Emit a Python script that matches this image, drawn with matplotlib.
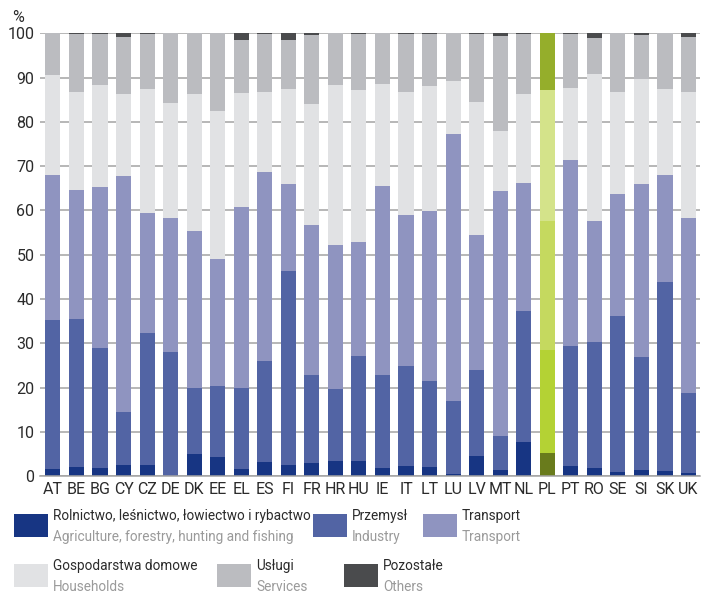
import matplotlib
matplotlib.use("Agg")
import matplotlib.pyplot as plt
from matplotlib.patches import Rectangle
import numpy as np

plt.rcParams["font.family"] = ["Roboto", "DejaVu Sans"]

countries = ["AT", "BE", "BG", "CY", "CZ", "DE", "DK", "EE", "EL", "ES", "FI", "FR", "HR", "HU",
             "IE", "IT", "LT", "LU", "LV", "MT", "NL", "PL", "PT", "RO", "SE", "SI", "SK", "UK"]

agriculture = [1.7, 2.1, 1.9, 2.6, 2.6, 0.0, 5.0, 4.4, 1.7, 3.3, 2.6, 3.0, 3.5, 3.5,
               1.9, 2.3, 2.1, 0.5, 4.6, 1.4, 7.7, 5.3, 2.3, 1.9, 1.0, 1.4, 1.2, 0.8]
industry = [33.6, 33.4, 27.0, 11.9, 29.7, 28.0, 14.9, 16.0, 18.2, 22.7, 43.7, 19.9, 16.2, 23.6,
            21.0, 22.6, 19.4, 16.5, 19.4, 7.7, 29.6, 23.2, 27.1, 28.4, 35.2, 25.5, 42.6, 18.0]
transport = [32.6, 29.0, 36.3, 53.2, 27.0, 30.2, 35.4, 28.7, 40.8, 42.6, 19.6, 33.9, 32.6, 25.7,
             42.7, 34.0, 38.3, 60.2, 30.4, 55.2, 28.8, 29.0, 41.9, 27.2, 27.6, 39.0, 24.1, 39.4]
households = [22.6, 22.3, 23.2, 18.5, 28.2, 26.0, 30.9, 33.3, 25.8, 18.2, 21.4, 27.2, 36.1, 34.4,
              22.9, 27.8, 28.2, 12.0, 30.0, 13.7, 20.1, 29.6, 16.3, 33.3, 22.9, 23.7, 19.5, 28.5]
services = [9.5, 13.0, 11.4, 12.9, 12.3, 15.8, 13.8, 17.6, 11.9, 13.0, 11.1, 15.5, 11.6, 12.6,
            11.5, 13.1, 11.8, 10.8, 15.4, 21.3, 13.6, 12.9, 12.2, 8.2, 13.3, 9.9, 12.6, 12.4]
others = [0.0, 0.2, 0.2, 0.9, 0.2, 0.0, 0.0, 0.0, 1.6, 0.2, 1.6, 0.5, 0.0, 0.2,
          0.0, 0.2, 0.2, 0.0, 0.2, 0.7, 0.2, 0.0, 0.2, 1.0, 0.0, 0.5, 0.0, 0.9]

labels_pl = ["Rolnictwo, leśnictwo, łowiectwo i rybactwo", "Przemysł", "Transport",
             "Gospodarstwa domowe", "Usługi", "Pozostałe"]
labels_en = ["Agriculture, forestry, hunting and fishing", "Industry", "Transport",
             "Households", "Services", "Others"]

colors = ["#173583", "#5264a4", "#8f94c0", "#e1e2e4", "#bbbcc0", "#4a4b4d"]
colors_pl = ["#697b1c", "#b4d234", "#c5d95f", "#d4e38a", "#95ae2b", "#4a4b4d"]
highlight = "PL"

series = [agriculture, industry, transport, households, services, others]

fig = plt.figure(figsize=(7.01, 5.93), dpi=100)
ax = fig.add_axes([0.057, 0.197, 0.942, 0.747])

x = np.arange(len(countries))
bottom = np.zeros(len(countries))
for vals, c, cpl in zip(series, colors, colors_pl):
    vals = np.array(vals)
    bar_colors = [cpl if k == highlight else c for k in countries]
    ax.bar(x, vals, bottom=bottom, width=0.64, color=bar_colors, zorder=2, linewidth=0)
    bottom += vals

ax.set_xlim(-0.55, 27.5)
ax.set_ylim(0, 100)
ax.set_yticks(np.arange(0, 101, 10))
ax.yaxis.grid(True, color="#a3a3a3", lw=1.1, zorder=0)
ax.set_axisbelow(True)
for s in ["top", "right", "left"]:
    ax.spines[s].set_visible(False)
ax.spines["bottom"].set_color("#a3a3a3")
ax.spines["bottom"].set_linewidth(1.1)
ax.tick_params(axis="both", length=0, labelsize=11.5, colors="#2b2b2b")
ax.tick_params(axis="y", pad=4)
ax.tick_params(axis="x", pad=4)
ax.set_xticks(x)
ax.set_xticklabels(countries)
fig.text(18 / 701, 1 - 17 / 593, "%", fontsize=11.5, color="#2b2b2b", ha="center", va="center")

# legend drawn by hand: two-line labels (Polish / English)
W, H = 701.0, 593.0
slots = [(14, 514), (313, 514), (423, 514), (14, 564), (217, 564), (344, 564)]
for (px, py), c, lp, le in zip(slots, colors, labels_pl, labels_en):
    fig.add_artist(Rectangle((px / W, 1 - (py + 23) / H), 34 / W, 23 / H,
                             transform=fig.transFigure, color=c, lw=0))
    fig.text((px + 39) / W, 1 - (py + 2) / H, lp, fontsize=9.8, color="#2b2b2b",
             ha="left", va="center")
    fig.text((px + 39) / W, 1 - (py + 23) / H, le, fontsize=9.8, color="#9a9a9a",
             ha="left", va="center")

fig.savefig("out.png", dpi=100)
